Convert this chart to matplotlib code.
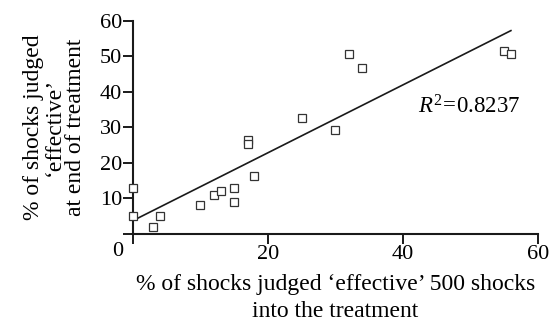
import numpy as np
import matplotlib
matplotlib.use("Agg")
import matplotlib.pyplot as plt

plt.rcParams['font.family'] = ['Liberation Serif', 'DejaVu Serif']
plt.rcParams['mathtext.fontset'] = 'custom'
plt.rcParams['mathtext.rm'] = 'Liberation Serif'
plt.rcParams['mathtext.it'] = 'Liberation Serif:italic'

# shocks judged effective: after 500 shocks vs at end of treatment (%)
pct_500 = [0, 0, 4, 3, 10, 12, 13, 15, 15, 17, 17, 18, 25, 30, 32, 34, 55, 56]
pct_end = [13, 5, 5, 2, 8, 11, 12, 13, 9, 26.3, 25.2, 16.3, 32.5, 29.2, 50.6, 46.6, 51.6, 50.6]
r_squared = 0.8237
x_ticks = [0, 20, 40, 60]
y_ticks = [0, 10, 20, 30, 40, 50, 60]

x = np.array(pct_500, dtype=float)
y = np.array(pct_end, dtype=float)
slope, intercept = np.polyfit(x, y, 1)

fig = plt.figure(figsize=(5.5, 3.21), dpi=100)
ax = fig.add_axes([0.2418, 0.2717, 0.7362, 0.6638])

line_x = np.array([0, 56])
ax.plot(line_x, intercept + slope * line_x, color='#1a1a1a', lw=1.2, clip_on=False)
ax.plot(x, y, ls='none', marker='s', ms=6.2, mfc='white', mec='#333333', mew=0.9,
        clip_on=False, zorder=3)

ax.text(42.2, 35.7, r'$R^2\!=\!%.4f$' % r_squared, fontsize=16.5, ha='left', va='center')

ax.set_xlim(0, 60)
ax.set_ylim(0, 60)
ax.set_xticks(x_ticks)
ax.set_xticklabels([''] + [str(t) for t in x_ticks[1:]])
ax.set_yticks(y_ticks)
ax.set_yticklabels([''] + [str(t) for t in y_ticks[1:]])
ax.annotate('0', xy=(0, 0), xytext=(-10, -8), textcoords='offset pixels',
            ha='right', va='top', fontsize=16)

ax.tick_params(direction='out', length=7, width=1.4, labelsize=16, pad=1, color='#1a1a1a')
for side in ['top', 'right']:
    ax.spines[side].set_visible(False)
for side in ['left', 'bottom']:
    ax.spines[side].set_linewidth(1.5)
    ax.spines[side].set_color('#1a1a1a')

ax.set_xlabel("% of shocks judged \u2018effective\u2019 500 shocks\ninto the treatment",
              fontsize=17, labelpad=7, linespacing=1.4)
ax.set_ylabel("% of shocks judged\n\u2018effective\u2019\nat end of treatment",
              fontsize=17, labelpad=10, linespacing=1.0)

fig.savefig('out.png', dpi=100, facecolor='white')
